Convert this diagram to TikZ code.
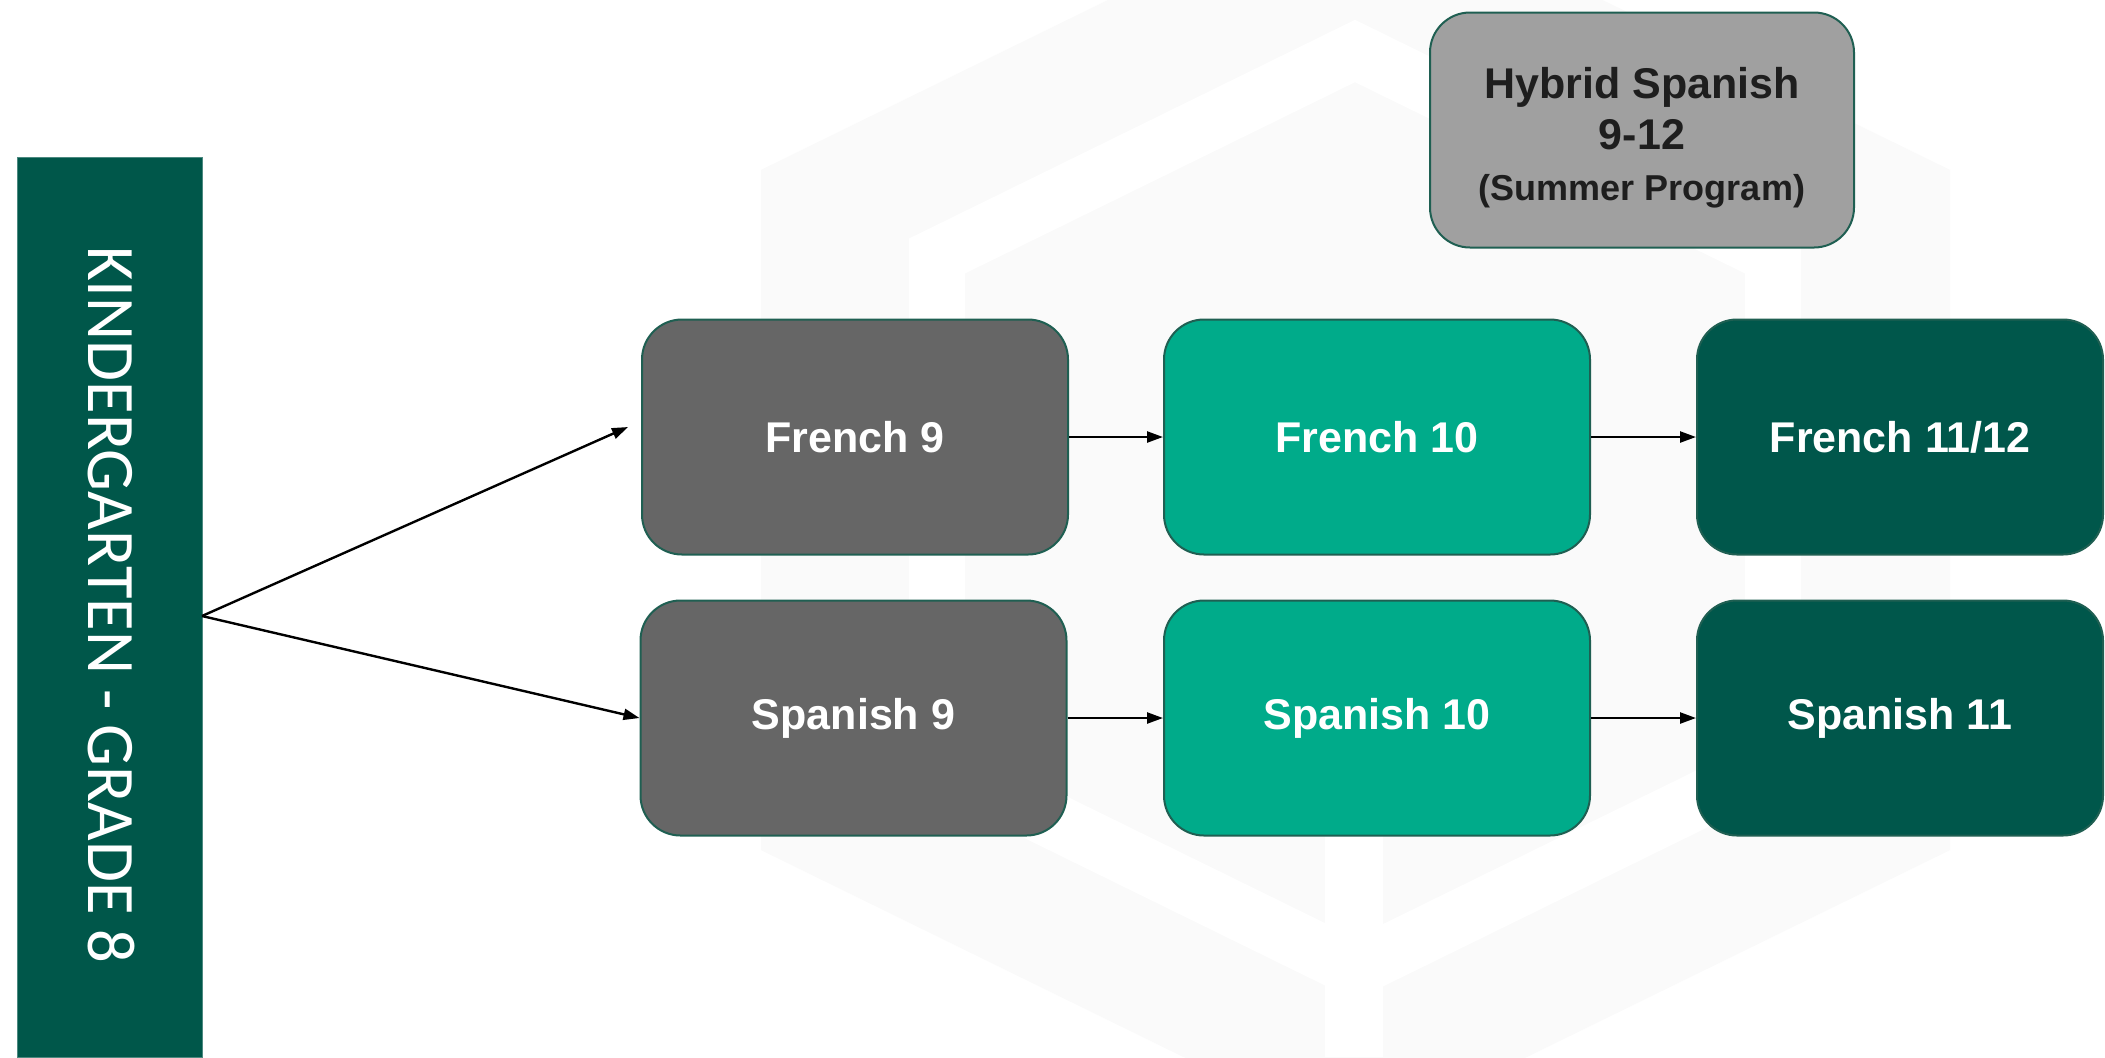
\documentclass[tikz,border=0pt]{standalone}
\usepackage{fontspec}
\setmainfont{Liberation Sans}
\newfontfamily\kfont{Carlito}
\usetikzlibrary{arrows.meta}
\definecolor{barGreen}{HTML}{00574A}
\definecolor{midGreen}{HTML}{00AB8A}
\definecolor{darkGreen}{HTML}{00574B}
\definecolor{boxGray}{HTML}{666666}
\definecolor{lightGray}{HTML}{A0A0A0}
\definecolor{edgeGreen}{HTML}{1F5F52}
\definecolor{txtDark}{HTML}{1E1E1E}
\definecolor{wmark}{HTML}{FAFAFA}
\tikzset{
  course/.style={rectangle, rounded corners=20pt, draw=edgeGreen, line width=1pt,
    minimum width=213pt, minimum height=117.5pt, inner sep=0pt, text=white,
    font=\fontsize{21.5pt}{25.5pt}\selectfont\bfseries},
  grade9/.style={course, fill=boxGray},
  grade10/.style={course, fill=midGreen},
  grade11/.style={course, fill=darkGreen},
  hybridbox/.style={course, fill=lightGray, text=txtDark, align=center},
  flow/.style={draw=black, line width=1.2pt, -{Triangle[length=8pt,width=5.5pt]}}
}
\begin{document}
\begin{tikzpicture}[x=0.5pt, y=-0.5pt]
\useasboundingbox (0,0) rectangle (2105,1057);
\fill[white] (0,0) rectangle (2105,1057);
% faint background watermark
\begin{scope}
\clip (0,0) rectangle (2105,1057);
\fill[wmark] (761,170) -- (1355,-121) -- (1950,170) -- (1950,850) -- (1355,1141) -- (761,850) -- cycle;
\draw[white, line width=28pt, line join=miter]
  (937,256) -- (1355,51) -- (1773,256) -- (1773,764) -- (1355,969) -- (937,764) -- cycle;
\fill[white] (1325,700) rectangle (1383,1057);
\end{scope}
% left bar
\node[rectangle, fill=barGreen, draw=barGreen!70!white, line width=0.6pt, inner sep=0pt,
  minimum width=92.5pt, minimum height=450pt, anchor=north west] (kb) at (17,157) {};
\node[rotate=-90, text=white, inner sep=0pt] (kbt) at (111,605)
  {\scalebox{0.98}[1]{\kfont\fontsize{34pt}{40pt}\selectfont KINDERGARTEN - GRADE 8}};
\coordinate (kbo) at (202,616);
% course boxes
\node[grade9]  (fr9)  at (855,437)  {French 9};
\node[grade9]  (sp9)  at (853.5,718) {Spanish 9};
\node[grade10] (fr10) at (1377,437) {French 10};
\node[grade10] (sp10) at (1377,718) {Spanish 10};
\node[grade11, minimum width=203pt] (fr11) at (1900,437) {French 11/12};
\node[grade11, minimum width=203pt] (sp11) at (1900,718) {Spanish 11};
\node[hybridbox, minimum width=212pt] (hyb) at (1642,130) {};
\node[text=txtDark, align=center, inner sep=0pt, font=\fontsize{21.5pt}{25.5pt}\selectfont\bfseries] (hybt) at (1642,138)
  {Hybrid Spanish\\9-12\\{\fontsize{18pt}{25pt}\selectfont (Summer Program)}};
% connectors
\coordinate (fr9in) at (628,427);
\draw[flow] (kbo) -- (fr9in);
\draw[flow] (kbo) -- (sp9.west);
\draw[flow] (fr9.east) -- (fr10.west);
\draw[flow] (sp9.east) -- (sp10.west);
\draw[flow] (fr10.east) -- (fr11.west);
\draw[flow] (sp10.east) -- (sp11.west);
\end{tikzpicture}
\end{document}
